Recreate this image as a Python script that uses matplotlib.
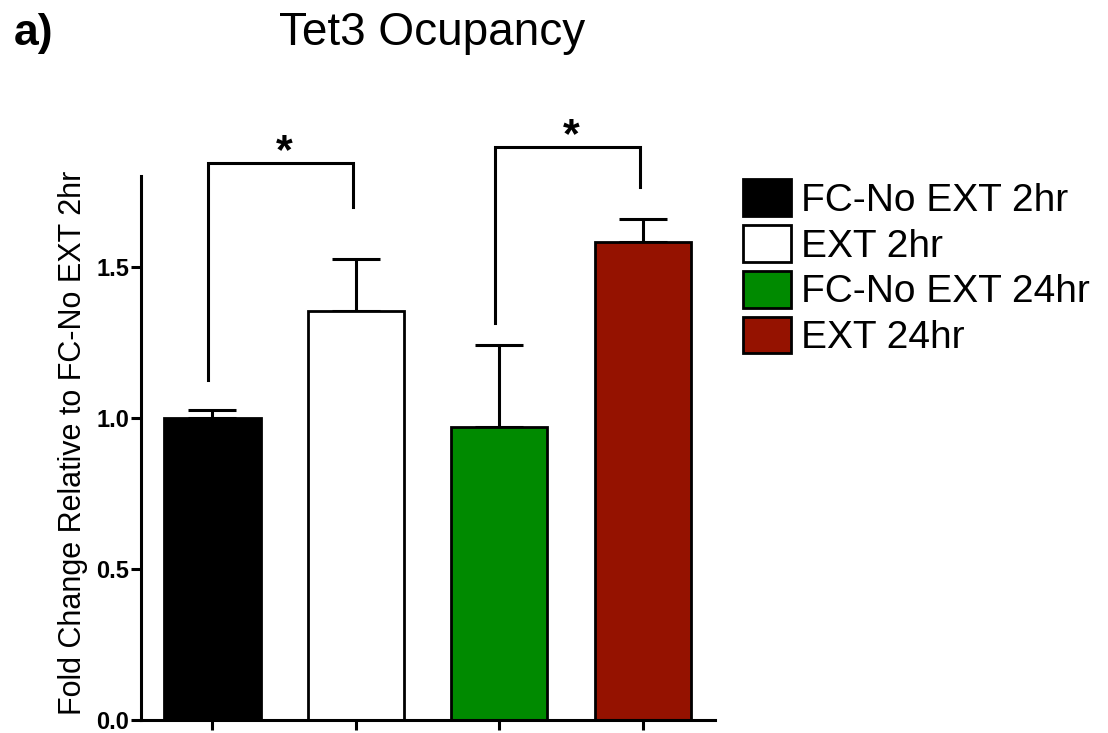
import matplotlib
matplotlib.use("Agg")
import matplotlib.pyplot as plt
from matplotlib.patches import Patch

plt.rcParams['font.family'] = ['Liberation Sans', 'DejaVu Sans']

# data
groups = ["FC-No EXT 2hr", "EXT 2hr", "FC-No EXT 24hr", "EXT 24hr"]
means = [1.00, 1.355, 0.970, 1.583]
errors = [0.025, 0.172, 0.272, 0.076]
colors = ["#000000", "#ffffff", "#008a00", "#951200"]

# significance brackets: (left x, right x, left bottom, top, right bottom)
brackets = [(0, 1, 1.126, 1.844, 1.699), (2, 3, 1.315, 1.897, 1.765)]
star_y = [1.88, 1.935]

fig = plt.figure(figsize=(11.08, 7.33), dpi=100)
ax = fig.add_axes([0.127, 0.0177, 0.518, 0.7416])

x = list(range(len(groups)))
ax.bar(x, means, width=0.67, color=colors, edgecolor="black", linewidth=2, zorder=2)
ax.errorbar(x, means, yerr=[[0] * len(errors), errors], fmt="none", ecolor="black",
            elinewidth=2.2, capsize=17.6, capthick=2.2, zorder=1)

for (xl, xr, yl, yt, yr), sy in zip(brackets, star_y):
    ax.plot([xl - 0.03, xl - 0.03, xr - 0.02, xr - 0.02], [yl, yt, yt, yr], color="black",
            lw=2.2, clip_on=False, solid_joinstyle="miter")
    ax.text((xl + xr) / 2 - 0.0, sy, "*", ha="center", va="center", fontsize=31,
            fontweight="bold", clip_on=False)

ax.set_xlim(-0.5, 3.5)
ax.set_ylim(0, 1.8)
ax.set_yticks([0.0, 0.5, 1.0, 1.5])
ax.set_yticklabels(["0.0", "0.5", "1.0", "1.5"], fontsize=17, fontweight="bold")
ax.set_xticks(x)
ax.set_xticklabels([])
ax.tick_params(axis="both", width=2.2, length=7.5, direction="out", pad=1)
ax.spines["top"].set_visible(False)
ax.spines["right"].set_visible(False)
ax.spines["left"].set_linewidth(2.2)
ax.spines["bottom"].set_linewidth(2.2)
ax.set_ylabel("Fold Change Relative to FC-No EXT 2hr", fontsize=22)
ax.yaxis.set_label_coords(-0.092, 0.51)

fig.text(0.390, 1 - 45 / 733, "Tet3 Ocupancy", fontsize=33, ha="center", va="baseline")
fig.text(0.012, 1 - 45 / 733, "a)", fontsize=32, fontweight="bold", ha="left", va="baseline")

handles = [Patch(facecolor=c, edgecolor="black", linewidth=2) for c in colors]
fig.legend(handles, groups, loc="upper left", bbox_to_anchor=(743 / 1108, 1 - 179 / 733),
           frameon=False, fontsize=28, handlelength=1.23, handleheight=1.08,
           handletextpad=0.26, labelspacing=0.16, borderpad=0, borderaxespad=0)

fig.savefig("out.png", dpi=100)
